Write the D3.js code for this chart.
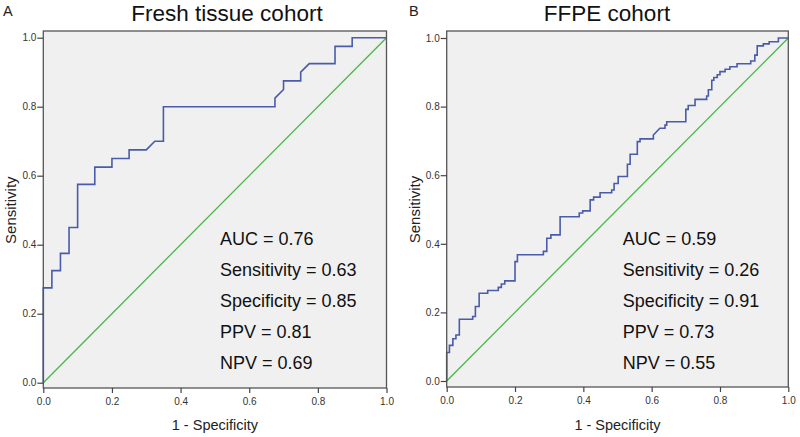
<!DOCTYPE html>
<html><head><meta charset="utf-8">
<script src="https://cdn.jsdelivr.net/npm/d3@7"></script>
<style>body{margin:0;background:#fff;}svg{display:block;font-family:"Liberation Sans",Arial,sans-serif;}</style>
</head><body><svg id="c" width="800" height="437"></svg>
<script>
const panelLetters = ["A", "B"];
const panelTitles = ["Fresh tissue cohort", "FFPE cohort"];
const tickValues = [0, 0.2, 0.4, 0.6, 0.8, 1.0];
const xAxisTitle = "1 - Specificity";
const yAxisTitle = "Sensitivity";
const statLabels = ["AUC", "Sensitivity", "Specificity", "PPV", "NPV"];
const statsFresh = [0.76, 0.63, 0.85, 0.81, 0.69];
const statsFFPE = [0.59, 0.26, 0.91, 0.73, 0.55];

const fprFresh = [0,0,0.025,0.025,0.05,0.05,0.075,0.075,0.1,0.1,0.15,0.15,0.2,0.2,0.25,0.25,0.3,0.325,0.35,0.35,0.675,0.675,0.7,0.7,0.75,0.75,0.775,0.85,0.85,0.9,0.9,1];
const tprFresh = [0,0.275,0.275,0.325,0.325,0.375,0.375,0.45,0.45,0.575,0.575,0.625,0.625,0.65,0.65,0.675,0.675,0.7,0.7,0.8,0.8,0.825,0.85,0.875,0.875,0.9,0.925,0.925,0.975,0.975,1,1];

const fprFFPE = [0,0,0.008,0.008,0.018,0.018,0.027,0.027,0.037,0.037,0.076,0.076,0.084,0.084,0.095,0.095,0.12,0.12,0.151,0.151,0.16,0.16,0.17,0.17,0.2,0.2,0.207,0.207,0.283,0.283,0.293,0.293,0.305,0.305,0.332,0.332,0.388,0.388,0.398,0.398,0.42,0.42,0.43,0.43,0.449,0.449,0.483,0.483,0.49,0.49,0.502,0.502,0.529,0.529,0.537,0.537,0.558,0.558,0.566,0.566,0.605,0.605,0.624,0.639,0.639,0.644,0.644,0.70,0.70,0.707,0.707,0.727,0.727,0.761,0.761,0.766,0.766,0.776,0.776,0.782,0.782,0.792,0.792,0.80,0.80,0.815,0.815,0.829,0.829,0.85,0.85,0.89,0.89,0.902,0.902,0.909,0.909,0.927,0.927,0.944,0.944,0.971,0.971,1];
const tprFFPE = [0,0.083,0.083,0.104,0.104,0.123,0.123,0.134,0.134,0.18,0.18,0.188,0.188,0.217,0.217,0.256,0.256,0.264,0.264,0.273,0.273,0.283,0.283,0.292,0.292,0.348,0.348,0.368,0.368,0.378,0.378,0.416,0.416,0.426,0.426,0.479,0.479,0.49,0.49,0.496,0.496,0.528,0.528,0.536,0.536,0.549,0.549,0.557,0.557,0.576,0.576,0.596,0.596,0.632,0.632,0.661,0.661,0.698,0.698,0.706,0.706,0.717,0.737,0.737,0.746,0.746,0.756,0.756,0.792,0.792,0.803,0.803,0.821,0.821,0.831,0.831,0.849,0.849,0.877,0.877,0.885,0.885,0.893,0.893,0.902,0.902,0.909,0.909,0.916,0.916,0.925,0.925,0.933,0.933,0.95,0.95,0.977,0.977,0.983,0.983,0.989,0.989,1.0,1.0];

const panels = [
  {letter: panelLetters[0], title: panelTitles[0], fpr: fprFresh, tpr: tprFresh, stats: statsFresh,
   x0: 43.3, x1: 386.5, yb: 382.7, yt: 37.7, top: 31, bottom: 388, letterX: 3, titleX: 227, ylabX: 16, statX: 220},
  {letter: panelLetters[1], title: panelTitles[1], fpr: fprFFPE, tpr: tprFFPE, stats: statsFFPE,
   x0: 446.7, x1: 788.3, yb: 381, yt: 38, top: 31, bottom: 387, letterX: 409, titleX: 607, ylabX: 420, statX: 622.7}
];

const svg = d3.select("#c");
svg.append("rect").attr("width", 800).attr("height", 437).attr("fill", "#fff");

panels.forEach(p => {
  const x = d3.scaleLinear().domain([0, 1]).range([p.x0, p.x1]);
  const y = d3.scaleLinear().domain([0, 1]).range([p.yb, p.yt]);
  const g = svg.append("g");

  g.append("rect").attr("x", p.x0).attr("y", p.top).attr("width", p.x1 - p.x0).attr("height", p.bottom - p.top)
    .attr("fill", "#f0f0f0").attr("stroke", "none");

  g.append("line").attr("x1", x(0)).attr("y1", y(0)).attr("x2", x(1)).attr("y2", y(1))
    .attr("stroke", "#45b845").attr("stroke-width", 1.3);

  const pts = p.fpr.map((v, i) => [v, p.tpr[i]]);
  g.append("path").datum(pts)
    .attr("d", d3.line().x(d => x(d[0])).y(d => y(d[1])))
    .attr("fill", "none").attr("stroke", "#4a5ca9").attr("stroke-width", 1.6).attr("stroke-linejoin", "miter");

  g.append("rect").attr("x", p.x0).attr("y", p.top).attr("width", p.x1 - p.x0).attr("height", p.bottom - p.top)
    .attr("fill", "none").attr("stroke", "#555").attr("stroke-width", 1.3);

  const yAx = g.append("g").attr("transform", `translate(${p.x0},0)`)
    .call(d3.axisLeft(y).tickValues(tickValues).tickFormat(d3.format(".1f")).tickSize(6).tickPadding(1));
  const xAx = g.append("g").attr("transform", `translate(0,${p.bottom})`)
    .call(d3.axisBottom(x).tickValues(tickValues).tickFormat(d3.format(".1f")).tickSize(5).tickPadding(5));
  [yAx, xAx].forEach(a => {
    a.select(".domain").remove();
    a.selectAll(".tick line").attr("stroke", "#444").attr("stroke-width", 1.2);
    a.selectAll(".tick text").attr("fill", "#333").style("font-size", "10px")
      .style("font-family", '"Liberation Sans",Arial,sans-serif');
  });

  g.append("text").attr("x", p.letterX).attr("y", 16).text(p.letter)
    .attr("font-size", 14.5).attr("fill", "#222");
  g.append("text").attr("x", p.titleX).attr("y", 21).attr("text-anchor", "middle").text(p.title)
    .attr("font-size", 22.5).attr("fill", "#111");
  g.append("text").attr("x", (p.x0 + p.x1) / 2).attr("y", 430).attr("text-anchor", "middle").text(xAxisTitle)
    .attr("font-size", 14.5).attr("fill", "#222");
  g.append("text").attr("transform", `translate(${p.ylabX},${(p.yb + p.yt) / 2}) rotate(-90)`)
    .attr("text-anchor", "middle").text(yAxisTitle).attr("font-size", 15).attr("fill", "#222");

  statLabels.forEach((lab, i) => {
    g.append("text").attr("x", p.statX).attr("y", 245.3 + i * 31)
      .text(`${lab} = ${p.stats[i].toFixed(2)}`).attr("font-size", 18).attr("fill", "#111");
  });
});
</script></body></html>
